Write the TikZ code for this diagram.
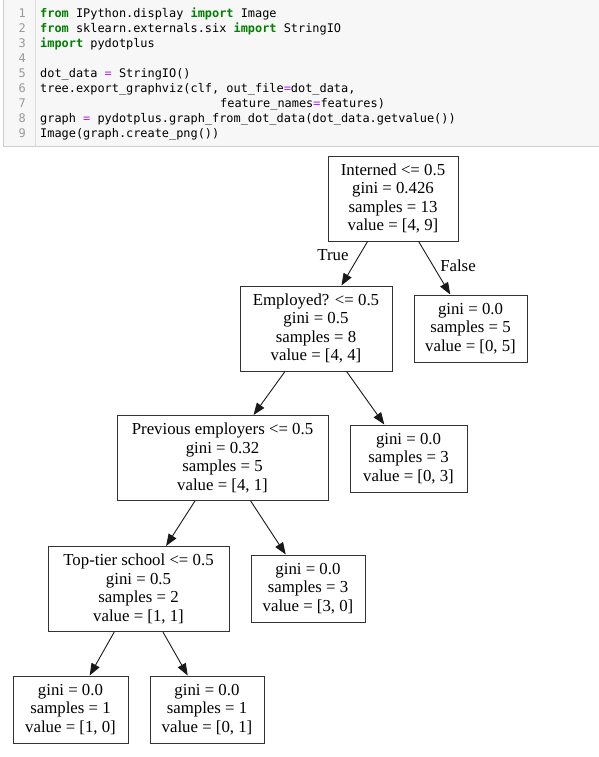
\documentclass[tikz,border=0pt]{standalone}
\usepackage{fontspec}
\usepackage{xcolor}
\setmainfont{Liberation Serif}
\setmonofont{DejaVu Sans Mono}
\usetikzlibrary{arrows.meta}

\definecolor{cellbg}{HTML}{F7F7F7}
\definecolor{cellline}{HTML}{CFCFCF}
\definecolor{gutter}{HTML}{DDDDDD}
\definecolor{lnum}{HTML}{999999}
\definecolor{kwgreen}{HTML}{008000}
\definecolor{oppurple}{HTML}{AA22FF}

\newcommand{\kw}[1]{\textcolor{kwgreen}{\bfseries #1}}
\newcommand{\op}[1]{\textcolor{oppurple}{#1}}

\begin{document}
\begin{tikzpicture}[
    x=1pt, y=-1pt,
    >={Triangle[length=12pt, width=9pt]},
    codeline/.style={anchor=base west, inner sep=0pt,
        font=\ttfamily\fontsize{11.9}{15}\selectfont},
    lineno/.style={anchor=base east, inner sep=0pt, text=lnum,
        font=\ttfamily\fontsize{11.9}{15}\selectfont},
    split/.style={draw=black!80, line width=1pt, align=center,
        inner xsep=3pt, inner ysep=0pt, minimum height=85pt,
        font=\fontsize{16.8}{18.5}\selectfont},
    leaf/.style={split, minimum height=67pt},
    edge/.style={->, line width=0.9pt, black!90},
    branch/.style={font=\fontsize{16.8}{18.5}\selectfont, inner sep=0pt},
]

%--- Frame of the picture ---
\useasboundingbox (0,0) rectangle (599,757);

%--- Code cell ---
\filldraw[fill=cellbg, draw=cellline, line width=1pt] (3,-2) rectangle (602,146);
\draw[gutter, line width=1pt] (35,-2) -- (35,146);

\foreach \i in {1,...,9}
    \node[lineno] (n\i) at (26, 2.3+15*\i) {\i};

\node[codeline] (l1) at (40, 17.3)  {\kw{from} IPython.display \kw{import} Image};
\node[codeline] (l2) at (40, 32.3)  {\kw{from} sklearn.externals.six \kw{import} StringIO};
\node[codeline] (l3) at (40, 47.3)  {\kw{import} pydotplus};
\node[codeline] (l5) at (40, 77.3)  {dot\_data \op{=} StringIO()};
\node[codeline] (l6) at (40, 92.3)  {tree.export\_graphviz(clf, out\_file\op{=}dot\_data,};
\node[codeline] (l7) at (220, 107.3) {feature\_names\op{=}features)};
\node[codeline] (l8) at (40, 122.3) {graph \op{=} pydotplus.graph\_from\_dot\_data(dot\_data.getvalue())};
\node[codeline] (l9) at (40, 137.3) {Image(graph.create\_png())};

%--- Decision tree ---
\node[split, minimum width=130pt] (root) at (393, 198.5)
    {Interned <= 0.5\\gini = 0.426\\samples = 13\\value = [4, 9]};

\node[split, minimum width=152pt] (employed) at (316, 328.5)
    {Employed? <= 0.5\\gini = 0.5\\samples = 8\\value = [4, 4]};
\node[leaf, minimum width=113pt] (leafA) at (470.5, 328.5)
    {gini = 0.0\\samples = 5\\value = [0, 5]};

\node[split, minimum width=211pt] (previous) at (222.5, 458)
    {Previous employers <= 0.5\\gini = 0.32\\samples = 5\\value = [4, 1]};
\node[leaf, minimum width=117pt] (leafB) at (408.5, 458.5)
    {gini = 0.0\\samples = 3\\value = [0, 3]};

\node[split, minimum width=181pt] (toptier) at (138.5, 589)
    {Top-tier school <= 0.5\\gini = 0.5\\samples = 2\\value = [1, 1]};
\node[leaf, minimum width=114pt] (leafC) at (308, 588.5)
    {gini = 0.0\\samples = 3\\value = [3, 0]};

\node[leaf, minimum width=115pt] (leafD) at (70.5, 709.5)
    {gini = 0.0\\samples = 1\\value = [1, 0]};
\node[leaf, minimum width=114pt] (leafE) at (207, 709.5)
    {gini = 0.0\\samples = 1\\value = [0, 1]};

%--- Edges ---
\draw[edge] (root) -- (employed);
\draw[edge] (root) -- (leafA);
\draw[edge] (employed) -- (previous);
\draw[edge] (employed) -- (leafB);
\draw[edge] (previous) -- (toptier);
\draw[edge] (previous) -- (leafC);
\draw[edge] (toptier) -- (leafD);
\draw[edge] (toptier) -- (leafE);

%--- Branch labels ---
\node[branch] (true)  at (333, 255) {True};
\node[branch] (false) at (458, 266) {False};

\end{tikzpicture}
\end{document}
